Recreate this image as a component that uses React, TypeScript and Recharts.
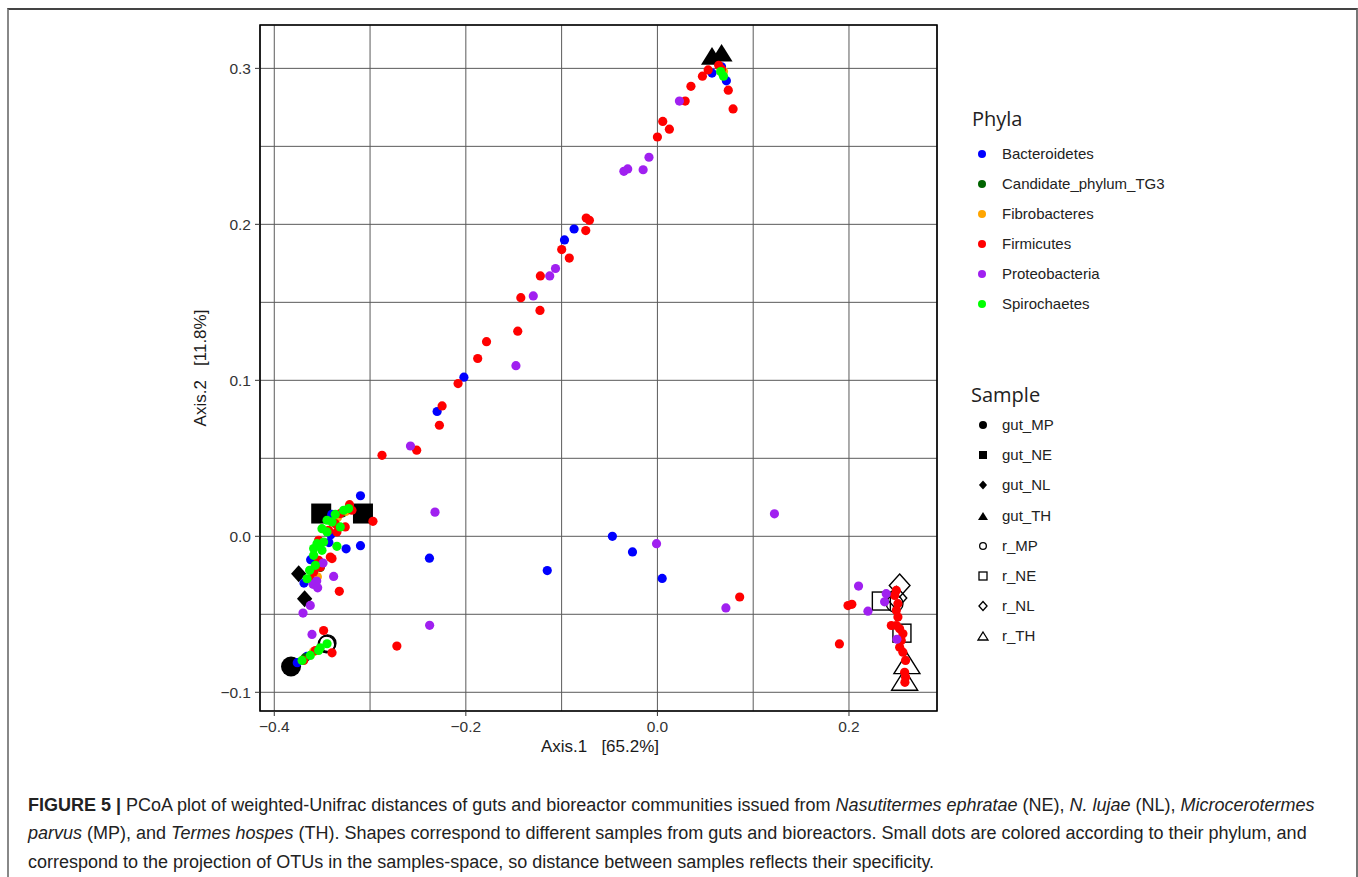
import { ScatterChart, Scatter, XAxis, YAxis, CartesianGrid, ReferenceArea } from 'recharts';

// axis setup
const X_DOMAIN = [-0.4149, 0.2919];
const Y_DOMAIN = [-0.112, 0.3278];
const X_TICKS = [-0.4, -0.3, -0.2, -0.1, 0, 0.1, 0.2];
const X_LABELED = [-0.4, -0.2, 0, 0.2];
const Y_TICKS = [-0.1, -0.05, 0, 0.05, 0.1, 0.15, 0.2, 0.25, 0.3];
const Y_LABELED = [-0.1, 0, 0.1, 0.2, 0.3];

// OTU projections, one list per phylum
const BACTEROIDETES = [
  { x: 0.057, y: 0.297 }, { x: 0.072, y: 0.292 }, { x: 0.067, y: 0.301 },
  { x: -0.087, y: 0.197 }, { x: -0.097, y: 0.19 }, { x: -0.202, y: 0.102 }, { x: -0.23, y: 0.08 },
  { x: -0.31, y: 0.026 }, { x: -0.325, y: -0.008 }, { x: -0.31, y: -0.006 }, { x: -0.238, y: -0.014 },
  { x: -0.34, y: 0.014 }, { x: -0.341, y: 0.001 }, { x: -0.343, y: -0.004 }, { x: -0.369, y: -0.03 },
  { x: -0.362, y: -0.015 }, { x: -0.366, y: -0.077 }, { x: -0.376, y: -0.081 },
  { x: -0.047, y: 0.0 }, { x: -0.026, y: -0.01 }, { x: -0.115, y: -0.022 }, { x: 0.005, y: -0.027 },
];

const CANDIDATE_TG3 = [
  { x: 0.068, y: 0.297 }, { x: -0.329, y: 0.015 }, { x: -0.352, y: -0.02 }, { x: -0.368, y: -0.078 },
];

const FIBROBACTERES = [
  { x: 0.069, y: 0.298 }, { x: -0.325, y: 0.016 }, { x: -0.334, y: 0.012 },
  { x: -0.359, y: -0.074 }, { x: -0.355, y: -0.026 },
];

const FIRMICUTES = [
  { x: 0.047, y: 0.295 }, { x: 0.067, y: 0.2995 }, { x: 0.074, y: 0.286 }, { x: 0.079, y: 0.274 },
  { x: 0.035, y: 0.2885 }, { x: 0.029, y: 0.279 }, { x: 0.0056, y: 0.266 }, { x: 0.0125, y: 0.261 },
  { x: 0.0, y: 0.256 }, { x: 0.064, y: 0.302 }, { x: 0.053, y: 0.299 },
  { x: -0.0743, y: 0.204 }, { x: -0.071, y: 0.2026 }, { x: -0.0748, y: 0.196 }, { x: -0.0999, y: 0.1838 },
  { x: -0.092, y: 0.1784 }, { x: -0.1222, y: 0.1669 }, { x: -0.1426, y: 0.153 }, { x: -0.1226, y: 0.1448 },
  { x: -0.1458, y: 0.1315 }, { x: -0.1784, y: 0.1248 }, { x: -0.1876, y: 0.114 }, { x: -0.2081, y: 0.0979 },
  { x: -0.2248, y: 0.0836 }, { x: -0.2276, y: 0.0712 }, { x: -0.2513, y: 0.0552 }, { x: -0.2875, y: 0.0519 },
  { x: -0.3214, y: 0.0203 }, { x: -0.297, y: 0.0096 }, { x: -0.3346, y: 0.0028 }, { x: -0.3259, y: 0.006 },
  { x: -0.3397, y: -0.0143 }, { x: -0.3321, y: -0.0353 }, { x: -0.3311, y: 0.0146 }, { x: -0.3189, y: 0.0167 },
  { x: -0.3537, y: -0.0026 }, { x: -0.3537, y: -0.0154 }, { x: -0.3589, y: -0.0229 }, { x: -0.3624, y: -0.0272 },
  { x: -0.3519, y: -0.0197 }, { x: -0.3415, y: -0.0133 }, { x: -0.3363, y: 0.0081 }, { x: -0.3433, y: 0.0038 },
  { x: -0.3485, y: -0.0604 }, { x: -0.3397, y: -0.0747 }, { x: -0.272, y: -0.0704 },
  { x: -0.3571, y: -0.0732 }, { x: -0.3693, y: -0.0796 },
  { x: 0.0859, y: -0.0389 },
  { x: 0.199, y: -0.0444 }, { x: 0.203, y: -0.0436 }, { x: 0.19, y: -0.069 },
  { x: 0.2494, y: -0.0347 }, { x: 0.2477, y: -0.0379 }, { x: 0.2511, y: -0.0432 }, { x: 0.2494, y: -0.0475 },
  { x: 0.2511, y: -0.0518 }, { x: 0.2494, y: -0.0572 }, { x: 0.2529, y: -0.0593 }, { x: 0.2563, y: -0.0625 },
  { x: 0.2546, y: -0.0668 }, { x: 0.2529, y: -0.0711 }, { x: 0.2563, y: -0.0743 }, { x: 0.2591, y: -0.0796 },
  { x: 0.2581, y: -0.0872 }, { x: 0.2591, y: -0.0904 }, { x: 0.2584, y: -0.0936 }, { x: 0.2442, y: -0.0572 },
];

const PROTEOBACTERIA = [
  { x: 0.023, y: 0.279 },
  { x: -0.0088, y: 0.243 }, { x: -0.0149, y: 0.235 }, { x: -0.031, y: 0.2355 }, { x: -0.035, y: 0.234 },
  { x: -0.1064, y: 0.1717 }, { x: -0.1124, y: 0.1669 }, { x: -0.1296, y: 0.1541 }, { x: -0.1477, y: 0.1094 },
  { x: -0.2578, y: 0.0579 },
  { x: -0.2322, y: 0.0155 }, { x: -0.3491, y: -0.0171 }, { x: -0.338, y: -0.0257 }, { x: -0.3557, y: -0.0287 },
  { x: -0.3595, y: -0.0308 }, { x: -0.3547, y: -0.033 }, { x: -0.3624, y: -0.0443 }, { x: -0.37, y: -0.0492 },
  { x: -0.3606, y: -0.0629 }, { x: -0.2378, y: -0.0571 },
  { x: -0.0009, y: -0.0047 }, { x: 0.1222, y: 0.0144 }, { x: 0.0715, y: -0.0459 },
  { x: 0.21, y: -0.0319 }, { x: 0.2198, y: -0.048 }, { x: 0.2372, y: -0.042 }, { x: 0.2389, y: -0.0368 },
  { x: 0.25, y: -0.066 },
];

const SPIROCHAETES = [
  { x: 0.069, y: 0.295 }, { x: 0.066, y: 0.298 },
  { x: -0.3363, y: 0.0141 }, { x: -0.3276, y: 0.0167 }, { x: -0.3224, y: 0.0178 }, { x: -0.3449, y: 0.0103 },
  { x: -0.3502, y: 0.0049 }, { x: -0.3449, y: 0.0028 }, { x: -0.3589, y: -0.0079 }, { x: -0.3554, y: -0.0047 },
  { x: -0.3485, y: -0.0037 }, { x: -0.3346, y: -0.0064 }, { x: -0.3589, y: -0.0122 }, { x: -0.3502, y: -0.009 },
  { x: -0.3631, y: -0.0218 }, { x: -0.3571, y: -0.0186 }, { x: -0.3658, y: -0.0272 }, { x: -0.3311, y: 0.006 },
  { x: -0.3397, y: 0.0092 },
  { x: -0.3449, y: -0.0689 }, { x: -0.3537, y: -0.0732 }, { x: -0.371, y: -0.0796 }, { x: -0.3624, y: -0.0764 },
  { x: -0.352, y: -0.0715 },
];

// sample positions
const GUT_MP = [{ x: -0.3825, y: -0.0835 }];
const GUT_NE = [{ x: -0.351, y: 0.0146 }, { x: -0.3074, y: 0.0146 }];
const GUT_NL = [{ x: -0.3745, y: -0.024 }, { x: -0.3683, y: -0.04 }];
const GUT_TH = [{ x: 0.057, y: 0.308 }, { x: 0.067, y: 0.31 }];
const R_MP = [
  { x: -0.3449, y: -0.0689 }, { x: -0.3455, y: -0.0693 }, { x: -0.3443, y: -0.0685 }, { x: 0.2477, y: -0.0432 },
];
const R_NE = [{ x: 0.2338, y: -0.0415 }, { x: 0.2553, y: -0.0621 }];
const R_NL = [{ x: 0.2529, y: -0.0315 }, { x: 0.2495, y: -0.0395 }];
const R_TH = [{ x: 0.2605, y: -0.0814 }, { x: 0.2581, y: -0.092 }];

const PHYLA = [
  { name: 'Bacteroidetes', color: '#0000FF', data: BACTEROIDETES },
  { name: 'Candidate_phylum_TG3', color: '#006400', data: CANDIDATE_TG3 },
  { name: 'Fibrobacteres', color: '#FFA500', data: FIBROBACTERES },
  { name: 'Firmicutes', color: '#FF0000', data: FIRMICUTES },
  { name: 'Proteobacteria', color: '#A020F0', data: PROTEOBACTERIA },
  { name: 'Spirochaetes', color: '#00FF00', data: SPIROCHAETES },
];

const SAMPLES = [
  { name: 'gut_MP', kind: 'circle', filled: true, size: 20, data: GUT_MP },
  { name: 'gut_NE', kind: 'square', filled: true, size: 20, data: GUT_NE },
  { name: 'gut_NL', kind: 'diamond', filled: true, size: 17, data: GUT_NL },
  { name: 'gut_TH', kind: 'triangle', filled: true, size: 22, data: GUT_TH },
  { name: 'r_MP', kind: 'circle', filled: false, size: 18, data: R_MP },
  { name: 'r_NE', kind: 'square', filled: false, size: 18, data: R_NE },
  { name: 'r_NL', kind: 'diamond', filled: false, size: 23, data: R_NL },
  { name: 'r_TH', kind: 'triangle', filled: false, size: 26, data: R_TH },
];

const FONT = '"Liberation Sans", Arial, sans-serif';

function Marker({ cx, cy, kind, filled, size, sw = 1.4 }) {
  const h = size / 2;
  const fill = filled ? '#000' : 'none';
  const stroke = '#000';
  const strokeWidth = filled ? 0 : sw;
  if (kind === 'circle') {
    return <circle cx={cx} cy={cy} r={filled ? h : h - sw / 2} fill={fill} stroke={stroke} strokeWidth={strokeWidth} />;
  }
  if (kind === 'square') {
    return <rect x={cx - h} y={cy - h} width={size} height={size} fill={fill} stroke={stroke} strokeWidth={strokeWidth} />;
  }
  if (kind === 'diamond') {
    const pts = `${cx},${cy - h} ${cx + h * 0.9},${cy} ${cx},${cy + h} ${cx - h * 0.9},${cy}`;
    return <polygon points={pts} fill={fill} stroke={stroke} strokeWidth={strokeWidth} />;
  }
  const th = size * 0.8;
  const pts = `${cx},${cy - th / 2} ${cx + h},${cy + th / 2} ${cx - h},${cy + th / 2}`;
  return <polygon points={pts} fill={fill} stroke={stroke} strokeWidth={strokeWidth} />;
}

const fmt = (v) => (v < 0 ? '\u2212' : '') + Math.abs(v).toFixed(1);
const isLabeled = (list, v) => list.some((t) => Math.abs(t - v) < 1e-9);

function XTick({ x, y, payload }) {
  if (!isLabeled(X_LABELED, payload.value)) return <g />;
  return (
    <g>
      <line x1={x} x2={x} y1={y - 10} y2={y - 5} stroke="#333" strokeWidth={1} />
      <text x={x} y={y} dy="0.72em" textAnchor="middle" fontSize={15.5} fontFamily={FONT} fill="#333">
        {fmt(payload.value)}
      </text>
    </g>
  );
}

function YTick({ x, y, payload }) {
  if (!isLabeled(Y_LABELED, payload.value)) return <g />;
  return (
    <g>
      <line x1={x + 4} x2={x + 9} y1={y} y2={y} stroke="#333" strokeWidth={1} />
      <text x={x} y={y} dy="0.36em" textAnchor="end" fontSize={15.5} fontFamily={FONT} fill="#333">
        {fmt(payload.value)}
      </text>
    </g>
  );
}

function LegendSymbol({ kind, filled }) {
  return (
    <svg width={14} height={14} style={{ position: 'absolute', left: -7, top: -7 }}>
      <Marker cx={7} cy={7} kind={kind} filled={filled} size={kind === 'triangle' ? 10 : kind === 'diamond' ? 9 : 8} sw={1.3} />
    </svg>
  );
}

export default function App() {
  return (
    <div style={{ position: 'absolute', left: 0, top: 0, width: 1358, height: 877, background: '#fff', overflow: 'hidden' }}>
      <div
        style={{
          position: 'absolute', left: 7, top: 8, width: 1347, height: 900,
          borderTop: '2px solid #444', borderLeft: '2px solid #888', borderRight: '2px solid #777',
        }}
      />
      <div style={{ position: 'absolute', left: 0, top: 0 }}>
        <ScatterChart width={1358} height={780} margin={{ top: 25, right: 421, bottom: 29, left: 200 }}>
          <CartesianGrid stroke="#5a5a5a" strokeWidth={1} />
          <XAxis
            type="number"
            dataKey="x"
            domain={X_DOMAIN}
            ticks={X_TICKS}
            allowDataOverflow
            height={40}
            tickSize={5}
            tickMargin={5}
            axisLine={false}
            tickLine={false}
            tick={XTick}
            interval={0}
          />
          <YAxis
            type="number"
            dataKey="y"
            domain={Y_DOMAIN}
            ticks={Y_TICKS}
            allowDataOverflow
            width={60}
            tickSize={5}
            tickMargin={4}
            axisLine={false}
            tickLine={false}
            tick={YTick}
            interval={0}
          />
          <ReferenceArea
            x1={X_DOMAIN[0]}
            x2={X_DOMAIN[1]}
            y1={Y_DOMAIN[0]}
            y2={Y_DOMAIN[1]}
            fill="none"
            fillOpacity={0}
            stroke="#000"
            strokeWidth={1.6}
            ifOverflow="visible"
          />
          {SAMPLES.map((s) => (
            <Scatter
              key={s.name}
              name={s.name}
              data={s.data}
              isAnimationActive={false}
              shape={(p) => <Marker cx={p.cx} cy={p.cy} kind={s.kind} filled={s.filled} size={s.size} />}
            />
          ))}
          {PHYLA.map((p) => (
            <Scatter
              key={p.name}
              name={p.name}
              data={p.data}
              fill={p.color}
              isAnimationActive={false}
              shape={(q) => <circle cx={q.cx} cy={q.cy} r={4.6} fill={p.color} />}
            />
          ))}
        </ScatterChart>
      </div>

      {/* axis titles */}
      <div style={{ position: 'absolute', left: 450, top: 737, width: 300, textAlign: 'center', fontFamily: FONT, fontSize: 17, color: '#1a1a1a', whiteSpace: 'pre' }}>
        {'Axis.1   [65.2%]'}
      </div>
      <div
        style={{
          position: 'absolute', left: 51, top: 357, width: 300, textAlign: 'center', fontFamily: FONT, fontSize: 17,
          color: '#1a1a1a', whiteSpace: 'pre', transform: 'rotate(-90deg)', lineHeight: '22px',
        }}
      >
        {'Axis.2   [11.8%]'}
      </div>

      {/* legends */}
      <div style={{ position: 'absolute', left: 972, top: 105, fontFamily: '"Open Sans", "Noto Sans", sans-serif', fontSize: 20, color: '#222' }}>
        Phyla
      </div>
      {PHYLA.map((p, i) => (
        <div key={p.name} style={{ position: 'absolute', left: 982, top: 153.5 + i * 30 }}>
          <div style={{ position: 'absolute', left: -4, top: -4, width: 8, height: 8, borderRadius: 4, background: p.color }} />
          <div style={{ position: 'absolute', left: 20, top: -10, fontFamily: FONT, fontSize: 15, color: '#222', whiteSpace: 'nowrap', lineHeight: '20px' }}>
            {p.name}
          </div>
        </div>
      ))}
      <div style={{ position: 'absolute', left: 971, top: 381, fontFamily: '"Open Sans", "Noto Sans", sans-serif', fontSize: 20, color: '#222' }}>
        Sample
      </div>
      {SAMPLES.map((s, i) => (
        <div key={s.name} style={{ position: 'absolute', left: 983, top: 425 + i * 30.2 }}>
          <LegendSymbol kind={s.kind} filled={s.filled} />
          <div style={{ position: 'absolute', left: 19, top: -10, fontFamily: FONT, fontSize: 15, color: '#222', whiteSpace: 'nowrap', lineHeight: '20px' }}>
            {s.name}
          </div>
        </div>
      ))}

      {/* caption */}
      <div style={{ position: 'absolute', left: 28, top: 791, fontFamily: FONT, fontSize: 18, color: '#222', lineHeight: '28.3px', whiteSpace: 'nowrap' }}>
        <div>
          <b>FIGURE 5 |</b> PCoA plot of weighted-Unifrac distances of guts and bioreactor communities issued from <i>Nasutitermes ephratae</i> (NE), <i>N. lujae</i> (NL), <i>Microcerotermes</i>
        </div>
        <div>
          <i>parvus</i> (MP), and <i>Termes hospes</i> (TH). Shapes correspond to different samples from guts and bioreactors. Small dots are colored according to their phylum, and
        </div>
        <div>correspond to the projection of OTUs in the samples-space, so distance between samples reflects their specificity.</div>
      </div>
    </div>
  );
}
